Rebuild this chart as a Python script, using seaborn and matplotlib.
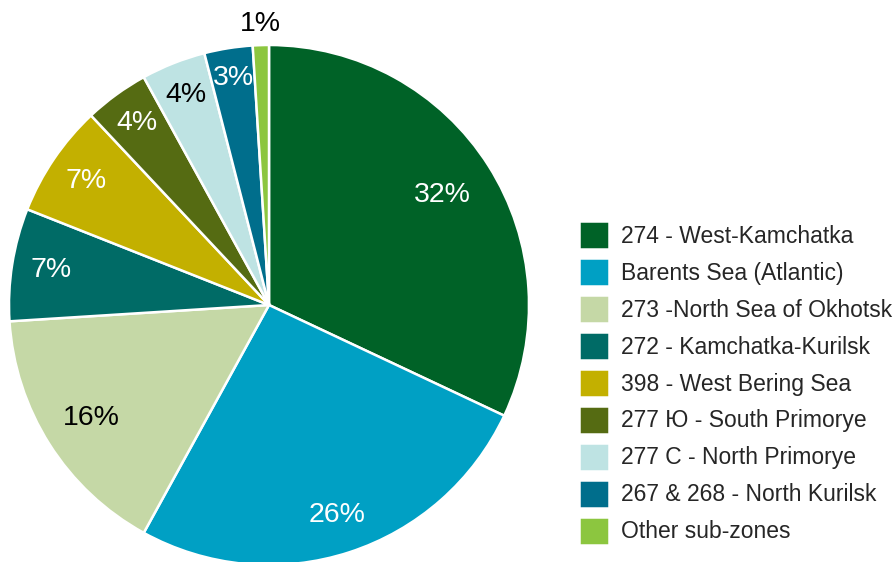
import matplotlib
matplotlib.use("Agg")
import matplotlib.pyplot as plt
import seaborn as sns
import numpy as np

categories = [
    "274 - West-Kamchatka",
    "Barents Sea (Atlantic)",
    "273 -North Sea of Okhotsk",
    "272 - Kamchatka-Kurilsk",
    "398 - West Bering Sea",
    "277 Ю - South Primorye",
    "277 C - North Primorye",
    "267 & 268 - North Kurilsk",
    "Other sub-zones",
]
shares = [32, 26, 16, 7, 7, 4, 4, 3, 1]
pct_labels = ["32%", "26%", "16%", "7%", "7%", "4%", "4%", "3%", "1%"]

hex_colors = ["#006227", "#00A0C4", "#C5D8A6", "#006B66", "#C3B000",
              "#556B12", "#BEE3E3", "#006E8C", "#8CC63F"]
text_colors = ["white", "white", "black", "white", "white", "white", "black", "white", "black"]
label_r = [0.79, 0.85, 0.81, 0.85, 0.85, 0.865, 0.87, 0.885, 1.08]

sns.set_theme(style="white")
plt.rcParams["font.family"] = ["Liberation Sans", "DejaVu Sans"]
palette = sns.color_palette(hex_colors)

fig = plt.figure(figsize=(8.95, 5.62), dpi=100)
ax = fig.add_axes([9 / 895, -3 / 562, 520 / 895, 520 / 562])

wedges, _ = ax.pie(shares, colors=palette, startangle=90, counterclock=False,
                   radius=1.0, wedgeprops=dict(edgecolor="white", linewidth=1.8))
ax.set_xlim(-1, 1)
ax.set_ylim(-1, 1)
ax.set_aspect("equal")

for w, lab, tc, r in zip(wedges, pct_labels, text_colors, label_r):
    ang = np.deg2rad((w.theta1 + w.theta2) / 2)
    ax.text(r * np.cos(ang), r * np.sin(ang), lab, ha="center", va="center",
            color=tc, fontsize=20.5)

fig.legend(wedges, categories, loc="center left",
           bbox_to_anchor=(579 / 895, 1 - 383 / 562), frameon=False,
           fontsize=16.5, handlelength=1.3, handleheight=1.5,
           labelspacing=0.39, handletextpad=0.55, borderpad=0, borderaxespad=0)

fig.savefig("out.png", dpi=100)
